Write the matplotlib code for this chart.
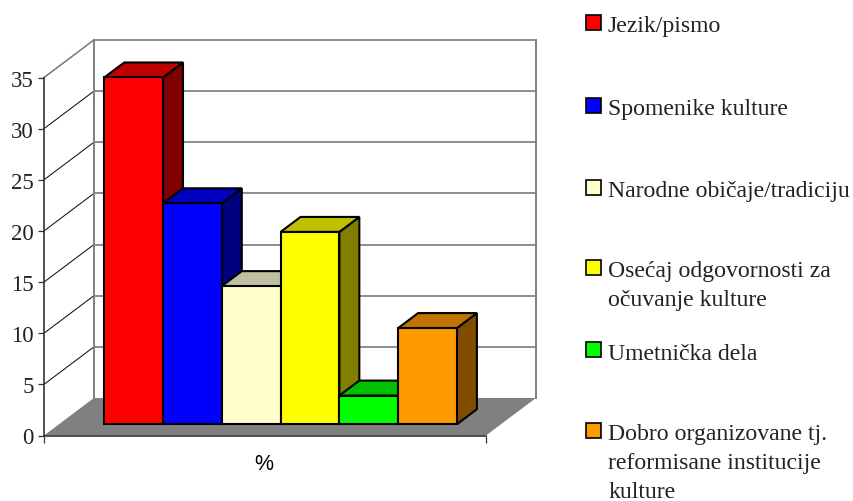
import matplotlib
matplotlib.use('Agg')
import matplotlib.pyplot as plt
from matplotlib.patches import Polygon, Rectangle

# data
categories = [
    "Jezik/pismo",
    "Spomenike kulture",
    "Narodne običaje/tradiciju",
    "Osećaj odgovornosti za\nočuvanje kulture",
    "Umetnička dela",
    "Dobro organizovane tj.\nreformisane institucije\nkulture",
]
values = [33.9, 21.6, 13.5, 18.8, 2.8, 9.4]
front_colors = ['#FF0000', '#0000FF', '#FFFFCC', '#FFFF00', '#00FF00', '#FF9900']
top_colors = ['#C00000', '#0000C0', '#C0C0A0', '#C0C000', '#00C000', '#C07300']
side_colors = ['#800000', '#000080', '#808066', '#808000', '#008000', '#804C00']
y_ticks = [0, 5, 10, 15, 20, 25, 30, 35]
x_label = "%"

W, H = 854, 502
SERIF = 'Liberation Serif'

# oblique depth: depth 1 shifts a point this much, in data units
DEPTH_X = 0.85
DEPTH_Y = 3.67
X_MAX = 7.52
Y_MAX = 35
GAP = 0.77
BAR_D0, BAR_D1 = 0.3, 0.7


def project(x, v, d):
    return (x + d * DEPTH_X, v + d * DEPTH_Y)


def face(ax, corners, color, **kw):
    pts = [project(*c) for c in corners]
    ax.add_patch(Polygon(pts, closed=True, facecolor=color, clip_on=False, **kw))


fig = plt.figure(figsize=(W / 100, H / 100), dpi=100, facecolor='white')
ax = fig.add_axes([44 / W, 1 - 436.5 / H, 442 / W, 358 / H])
ax.set_xlim(0, X_MAX)
ax.set_ylim(0, Y_MAX)
ax.patch.set_visible(False)

# floor
face(ax, [(0, 0, 0), (X_MAX, 0, 0), (X_MAX, 0, 1), (0, 0, 1)], '#808080', edgecolor='none', zorder=1)

# walls and grid
for v in y_ticks[1:]:
    x0, y0 = project(0, v, 0)
    x1, y1 = project(0, v, 1)
    x2, y2 = project(X_MAX, v, 1)
    is_top = v == Y_MAX
    ax.plot([x0, x1], [y0, y1], color='#808080' if is_top else '#111111',
            lw=1.2 if is_top else 0.75, clip_on=False, zorder=1)
    ax.plot([x1, x2], [y1, y2], color='#808080', lw=1.25, clip_on=False, zorder=1)
for x in [0, X_MAX]:
    x0, y0 = project(x, 0, 1)
    x1, y1 = project(x, Y_MAX, 1)
    ax.plot([x0, x1], [y0, y1], color='#808080', lw=1.4, clip_on=False, zorder=1)

# bars, left to right so that each one overlaps the previous
edge = dict(edgecolor='black', linewidth=1.5, joinstyle='miter', zorder=3)
for i, v in enumerate(values):
    xa, xb = GAP + i, GAP + i + 1
    face(ax, [(xb, 0, BAR_D0), (xb, 0, BAR_D1), (xb, v, BAR_D1), (xb, v, BAR_D0)], side_colors[i], **edge)
    face(ax, [(xa, v, BAR_D0), (xb, v, BAR_D0), (xb, v, BAR_D1), (xa, v, BAR_D1)], top_colors[i], **edge)
    face(ax, [(xa, 0, BAR_D0), (xb, 0, BAR_D0), (xb, v, BAR_D0), (xa, v, BAR_D0)], front_colors[i], **edge)

# axes
for s in ['top', 'right']:
    ax.spines[s].set_visible(False)
for s in ['left', 'bottom']:
    ax.spines[s].set_color('#333333')
    ax.spines[s].set_linewidth(1.2)
    ax.spines[s].set_zorder(2)
ax.set_yticks(y_ticks)
ax.set_yticklabels([str(t) for t in y_ticks], fontfamily=SERIF, fontsize=16.5, color='#222222')
ax.set_xticks([0, X_MAX])
ax.set_xticklabels(['', ''])
ax.tick_params(axis='y', length=4, width=0.9, color='#333333', pad=3.5)
ax.tick_params(axis='x', length=5, width=0.9, color='#333333')
fig.text(264 / W, 1 - 470 / H, x_label, family='Liberation Sans', fontsize=15.5,
         ha='center', va='baseline', color='black')

# legend, placed by hand as the rows are not even
swatch_y = [23, 106, 188, 268, 350, 431]
for i, label in enumerate(categories):
    yc = swatch_y[i]
    fig.add_artist(Rectangle((586 / W, 1 - (yc + 7.5) / H), 15 / W, 15 / H,
                             transform=fig.transFigure, facecolor=front_colors[i],
                             edgecolor='black', linewidth=1.2))
    for j, line in enumerate(label.split('\n')):
        fig.text(608 / W, 1 - (yc + 9.5 + j * 28.8) / H, line, family=SERIF, fontsize=17.1,
                 ha='left', va='baseline', color='#222222')

fig.savefig('out.png', dpi=100)
